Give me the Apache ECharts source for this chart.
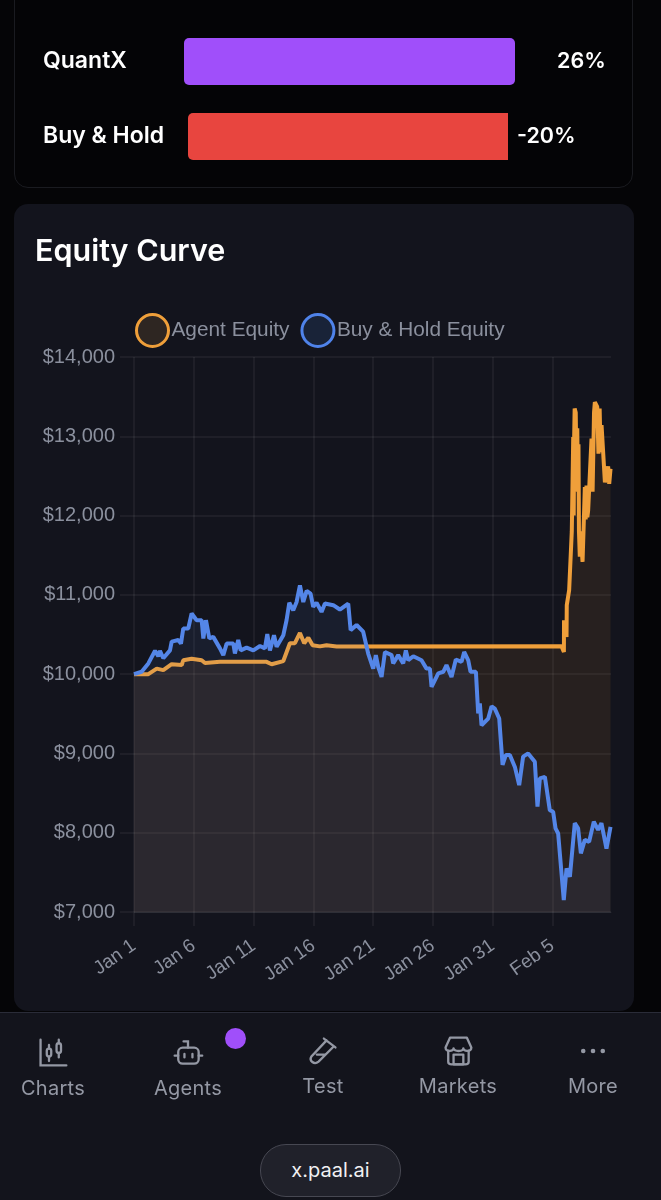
<!DOCTYPE html>
<html lang="en">
<head>
<meta charset="utf-8">
<title>Equity Curve</title>
<script src="https://cdn.jsdelivr.net/npm/echarts@6/dist/echarts.min.js"></script>
<style type="text/css">
html,body{ margin:0; padding:0; background:#050507;}
#page{ position:relative; width:661px; height:1200px; overflow:hidden; background:#050507; font-family:Inter,sans-serif;}
#topCard{ position:absolute; left:14px; top:-30px; width:619px; height:218px; box-sizing:border-box; border:1px solid #1a1b20; border-radius:14px; background:#040406;}
#chartCard{ position:absolute; left:14px; top:204px; width:620px; height:807px; border-radius:14px; background:#13141d;}
#nav{ position:absolute; left:0; top:1012px; width:661px; height:188px; background:#13141c; border-top:1px solid #2a2c38; box-sizing:border-box;}
#chart{ position:absolute; left:0; top:0; width:661px; height:1200px;}
.navItem{ position:absolute; width:120px; text-align:center; color:#9498a4; font-size:20px; letter-spacing:.3px;}
.navItem svg{ position:absolute; left:44px; top:-39px;}
#dot{ position:absolute; left:225px; top:1028px; width:21px; height:21px; border-radius:50%; background:#a04ffa;}
#pill{ position:absolute; left:260px; top:1144px; width:139px; height:51px; line-height:51px; border:1px solid #474852; border-radius:26px; background:#20212a; color:#f1f1f3; text-align:center; font-size:20px;}
</style>
</head>
<body>
<div id="page">
  <div id="topCard"></div>
  <div id="chartCard"></div>
  <div id="nav"></div>
  <div id="chart"></div>
  <!--bottom nav-->
  <div class="navItem" style="left:-7px;top:1076px">Charts
    <svg width="32" height="32" viewBox="0 0 36 36" fill="none" stroke="#9498a4" stroke-width="2.6" stroke-linecap="round"><path d="M4 3V32H33"/><rect x="11" y="13" width="5" height="9" rx="2.5"/><path d="M13.5 9V13M13.5 22V27"/><rect x="22" y="7" width="5" height="11" rx="2.5"/><path d="M24.5 3V7M24.5 18V23"/></svg>
  </div>
  <div class="navItem" style="left:128px;top:1076px">Agents
    <svg width="32" height="32" viewBox="0 0 36 36" fill="none" stroke="#9498a4" stroke-width="2.6" stroke-linecap="round"><rect x="7" y="12" width="23" height="18" rx="5"/><path d="M18 12V5H13M3 21H7M30 21H34M14 19V23M23 19V23"/></svg>
  </div>
  <div class="navItem" style="left:263px;top:1074px">Test
    <svg width="32" height="32" viewBox="0 0 36 36" fill="none" stroke="#9498a4" stroke-width="2.6" stroke-linecap="round"><path d="M22 6L5 24C2 29 8 34 13 30L30 13M19 4L32 14M11 22H20"/></svg>
  </div>
  <div class="navItem" style="left:398px;top:1074px">Markets
    <svg width="32" height="32" viewBox="0 0 36 36" fill="none" stroke="#9498a4" stroke-width="2.6" stroke-linecap="round" stroke-linejoin="round"><path d="M9 3H28L33 14C33 19 24 19 24 15C24 19 13 19 13 15C13 19 4 19 4 14Z"/><path d="M7 18V30C7 32 9 33 11 33H26C28 33 30 32 30 30V18"/><rect x="13" y="22" width="11" height="11"/></svg>
  </div>
  <div class="navItem" style="left:533px;top:1074px">More
    <svg width="32" height="32" viewBox="0 0 36 36" fill="#9498a4"><circle cx="7" cy="18" r="2.6"/><circle cx="18" cy="18" r="2.6"/><circle cx="29" cy="18" r="2.6"/></svg>
  </div>
  <div id="dot"></div>
  <div id="pill">x.paal.ai</div>
</div>

<script>
  //top comparison bars
  var barNames=['QuantX','Buy & Hold'];
  var barValues=[26,-20];
  //x tick labels, one every 5 days
  var tickLabels=['Jan 1','Jan 6','Jan 11','Jan 16','Jan 21','Jan 26','Jan 31','Feb 5'];
  //agent equity
  var agentDays=[0,1.2,1.9,2.45,3.15,3.99,4.12,4.82,5.66,5.94,7.19,11.09,11.51,12.49,13.04,13.46,13.88,14.24,14.58,14.94,15.55,16.11,16.95,35.76,35.96,35.97,36.18,36.2,36.4,36.62,36.74,36.78,36.82,36.86,36.95,37.0,37.08,37.13,37.18,37.22,37.29,37.35,37.52,37.62,37.71,37.78,37.85,37.92,37.99,38.13,38.27,38.36,38.48,38.55,38.75,38.85,38.95,39.03,39.11,39.25,39.39,39.52,39.66,39.75,39.86];
  var agentEquity=[10000,10000,10070,10050,10125,10115,10175,10195,10175,10140,10155,10155,10125,10165,10390,10390,10520,10390,10460,10365,10350,10365,10350,10353,10280,10680,10470,10870,11060,11800,12990,12000,13000,13350,13300,12700,13100,12300,12900,11800,11480,11800,11415,11900,12360,11950,12380,11980,12065,12065,12970,12300,13300,13430,13370,12780,13350,12800,13140,12780,12420,12400,12620,12400,12590];
  //buy and hold equity
  var holdDays=[0,0.64,1.2,1.76,2.03,2.17,2.45,3.01,3.15,3.71,3.93,4.12,4.54,4.82,5.24,5.66,5.8,6.02,6.3,6.63,7.19,7.47,7.75,8.31,8.44,8.72,8.92,9.42,9.98,10.54,10.95,11.15,11.37,11.71,11.93,12.49,12.76,12.99,13.32,13.6,13.88,14.16,14.44,14.77,14.99,15.27,15.69,15.97,16.67,17.22,17.92,18.12,18.62,19.17,19.59,20.01,20.23,20.43,20.71,20.99,21.55,21.68,22.1,22.52,22.74,22.94,23.36,24.05,24.47,24.75,24.89,25.45,25.87,26.14,26.56,26.92,27.4,27.62,27.96,28.15,28.6,28.79,28.93,29.07,29.63,29.91,30.18,30.55,30.83,31.1,31.44,31.86,32.22,32.55,32.97,33.53,33.75,33.95,34.37,34.78,35.06,35.26,35.48,35.95,36.18,36.46,36.87,37.15,37.38,37.71,38.07,38.46,38.82,39.1,39.52,39.86];
  var holdEquity=[10000,10030,10135,10295,10225,10295,10200,10300,10410,10430,10385,10575,10575,10765,10680,10680,10450,10680,10450,10470,10325,10240,10385,10385,10260,10430,10300,10335,10300,10355,10325,10505,10300,10490,10345,10490,10680,10900,10805,10910,11120,10910,11050,11015,10850,10900,10785,10890,10870,10815,10890,10555,10620,10535,10260,10070,10240,10090,9965,10280,10240,10135,10240,10135,10300,10175,10225,10175,10070,10070,9840,10010,10030,10115,9965,10185,10155,10280,10175,10030,10030,9505,9630,9355,9440,9595,9565,9440,8855,8980,8980,8830,8600,8960,9000,8895,8330,8685,8705,8285,8265,8055,7990,7150,7550,7445,8120,8055,7740,7910,7885,8140,8035,8120,7800,8075];

  function pairs(xs,ys){
    return xs.map(function(x,i){ return [x,ys[i]]; });
  }
  var axisGrey='#8b909e';
  var gridLine='rgba(255,255,255,0.07)';
  var whiteFont={color:'#fff',fontFamily:'Inter',fontSize:21.5,fontWeight:600};

  var option={
    animation:false,
    backgroundColor:'transparent',
    title:{text:'Equity Curve',left:35,top:236,padding:0,textStyle:{color:'#fff',fontFamily:'Inter',fontSize:30.5,fontWeight:600}},
    legend:{
      left:135,top:313,padding:0,itemWidth:32,itemHeight:32,itemGap:11,
      textStyle:{color:axisGrey,fontFamily:'Liberation Sans',fontSize:20.8,padding:[0,0,0,-2]},
      data:[
        {name:'Agent Equity',icon:'circle',itemStyle:{color:'#2e2622',borderColor:'#ef9f3a',borderWidth:3}},
        {name:'Buy & Hold Equity',icon:'circle',itemStyle:{color:'#192338',borderColor:'#4f83ea',borderWidth:3}}
      ]
    },
    grid:[
      {left:134,top:357,width:477,height:555},
      {left:184,top:38,width:331,height:47},
      {left:188,top:113,width:320,height:47}
    ],
    xAxis:[
      {type:'value',gridIndex:0,min:0,max:39.9,interval:5,
        axisLine:{show:true,lineStyle:{color:gridLine}},
        axisTick:{show:true,length:14,lineStyle:{color:gridLine,width:1.5}},
        axisLabel:{rotate:35,margin:32,color:axisGrey,fontFamily:'Liberation Sans',fontSize:19,
          showMaxLabel:false,formatter:function(v){ return tickLabels[v/5]||''; }},
        splitLine:{show:true,showMaxLine:false,lineStyle:{color:gridLine,width:1.5}}},
      {type:'value',gridIndex:1,min:0,max:barValues[0],show:false},
      {type:'value',gridIndex:2,min:barValues[1],max:0,show:false}
    ],
    yAxis:[
      {type:'value',gridIndex:0,min:7000,max:14000,interval:1000,
        axisLine:{show:false},
        axisTick:{show:true,length:14,lineStyle:{color:gridLine,width:1.5}},
        axisLabel:{margin:19,color:axisGrey,fontFamily:'Liberation Sans',fontSize:20,
          formatter:function(v){ return '$'+v.toLocaleString('en-US'); }},
        splitLine:{show:true,lineStyle:{color:gridLine,width:1.5}}},
      {type:'category',gridIndex:1,data:[barNames[0]],axisLine:{show:false},axisTick:{show:false},
        axisLabel:Object.assign({},whiteFont,{margin:141,align:'left',fontSize:23})},
      {type:'category',gridIndex:2,data:[barNames[1]],axisLine:{show:false},axisTick:{show:false},
        axisLabel:Object.assign({},whiteFont,{margin:145,align:'left',fontSize:23})}
    ],
    series:[
      {name:'Agent Equity',type:'line',xAxisIndex:0,yAxisIndex:0,data:pairs(agentDays,agentEquity),
        showSymbol:false,z:2,lineStyle:{color:'#ef9f3a',width:4},
        areaStyle:{origin:'start',color:'rgba(240,158,58,0.13)'}},
      {name:'Buy & Hold Equity',type:'line',xAxisIndex:0,yAxisIndex:0,data:pairs(holdDays,holdEquity),
        showSymbol:false,z:3,lineStyle:{color:'#5486e8',width:4},
        areaStyle:{origin:'start',color:'rgba(90,135,225,0.12)'}},
      {type:'bar',xAxisIndex:1,yAxisIndex:1,data:[barValues[0]],barWidth:47,
        itemStyle:{color:'#a04ffa',borderRadius:5},
        label:Object.assign({show:true,position:'right',distance:42,formatter:'{c}%'},whiteFont)},
      {type:'bar',xAxisIndex:2,yAxisIndex:2,data:[barValues[1]],barWidth:47,
        itemStyle:{color:'#e8453f',borderRadius:[5,0,0,5]},
        label:Object.assign({show:true,position:'right',distance:9,formatter:'{c}%'},whiteFont)}
    ]
  };
  var chart1=echarts.init(document.getElementById('chart'));
  chart1.setOption(option);
</script>
</body>
</html>
